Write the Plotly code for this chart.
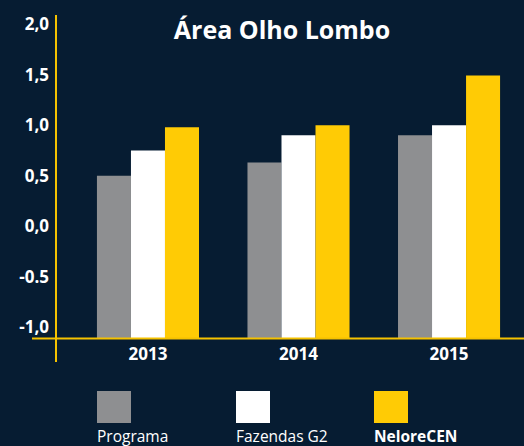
import plotly.graph_objects as go

W, H = 524, 446
BG = "#061c32"
AXIS = "#f5c200"

categories = ["2013", "2014", "2015"]
series_names = ["Programa", "Fazendas G2", "NeloreCEN"]
programa = [0.50, 0.63, 0.90]
fazendas = [0.75, 0.90, 1.00]
nelore = [0.98, 1.00, 1.49]
series_values = [programa, fazendas, nelore]
series_colors = ["#8e8f91", "#ffffff", "#ffcb05"]

tick_vals = [2.0, 1.5, 1.0, 0.5, 0.0, -0.5, -1.0]
tick_text = ["2,0", "1,5", "1,0", "0,5", "0,0", "-0.5", "-1,0"]

BASE = -1.109
FONT = "Open Sans"

def px(x):
    return x / W

def py(y):
    return 1 - y / H

fig = go.Figure()
for name, vals, col in zip(series_names, series_values, series_colors):
    fig.add_trace(go.Bar(
        x=categories, y=[v - BASE for v in vals], base=BASE,
        name=name, marker=dict(color=col, line=dict(width=0)),
        showlegend=False,
    ))

shapes = [
    dict(type="line", xref="paper", yref="paper", x0=px(56), x1=px(56), y0=py(15), y1=py(362),
         line=dict(color=AXIS, width=2)),
    dict(type="line", xref="paper", yref="paper", x0=px(32), x1=px(524), y0=py(338.5), y1=py(338.5),
         line=dict(color=AXIS, width=2)),
]
annotations = []
leg_x = [97, 236, 374]
for i, (name, col) in enumerate(zip(series_names, series_colors)):
    shapes.append(dict(type="rect", xref="paper", yref="paper",
                       x0=px(leg_x[i]), x1=px(leg_x[i] + 34), y0=py(391), y1=py(423),
                       fillcolor=col, line=dict(width=0)))
    annotations.append(dict(xref="paper", yref="paper", x=px(leg_x[i] - 2), y=py(436),
                            xanchor="left", yanchor="middle", showarrow=False,
                            text=("<b>%s</b>" % name) if i == 2 else name,
                            font=dict(family=FONT, size=15.5, color="#ffffff")))

fig.update_layout(
    width=W, height=H,
    paper_bgcolor=BG, plot_bgcolor=BG,
    margin=dict(l=0, r=0, t=0, b=0),
    barmode="group", bargap=0.322, bargroupgap=0,
    title=dict(text="<b>Área Olho Lombo</b>", x=px(282), y=py(30), xanchor="center", yanchor="middle",
               font=dict(family=FONT, size=25, color="#ffffff")),
    xaxis=dict(domain=[0, 1], range=[-0.983, 2.498], showgrid=False, zeroline=False, showline=False,
               ticks="", ticklabelstandoff=3,
               tickfont=dict(family=FONT, size=17, color="#ffffff", weight="bold"),
               fixedrange=True),
    yaxis=dict(domain=[py(338.5), 1], range=[BASE, 2.2376], anchor="free", position=px(56),
               showgrid=False, zeroline=False, showline=False, ticks="",
               tickvals=tick_vals, ticktext=tick_text, ticklabelstandoff=7,
               tickfont=dict(family=FONT, size=17, color="#ffffff", weight="bold"), fixedrange=True),
    shapes=shapes, annotations=annotations,
    font=dict(family=FONT, color="#ffffff"),
)
fig.write_html("out.html", config={"displayModeBar": False},
               post_script="document.body.style.margin='0';document.body.style.background='%s';" % BG)
